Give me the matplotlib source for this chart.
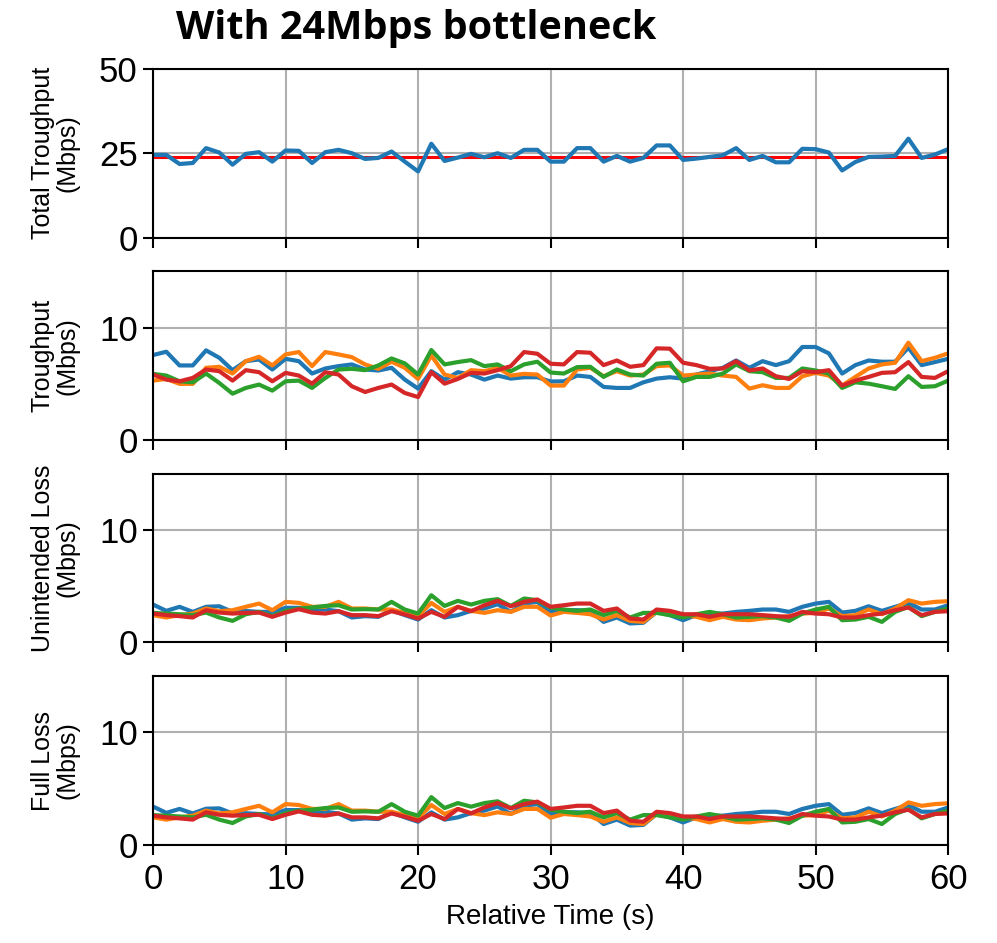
import numpy as np
import matplotlib
matplotlib.use("Agg")
import matplotlib.pyplot as plt

plt.rcParams['font.family'] = ['Liberation Sans', 'DejaVu Sans']

time_s = list(range(61))
bottleneck = 24

total_tput = [24.5, 24.5, 21.8, 22.1, 26.5, 25.2, 21.6, 24.8, 25.3, 22.5,
              25.8, 25.7, 22.1, 25.3, 26.0, 25.0, 23.3, 23.6, 25.5, 22.5,
              19.6, 27.8, 22.7, 23.7, 24.8, 23.8, 25.0, 23.6, 26.0, 26.0,
              22.5, 22.5, 26.5, 26.5, 22.5, 24.2, 22.5, 23.6, 27.3, 27.3,
              23.0, 23.4, 23.9, 24.4, 26.5, 23.0, 24.2, 22.3, 22.3, 26.3,
              26.2, 25.2, 19.9, 22.4, 23.9, 24.0, 24.2, 29.3, 23.6, 24.6, 26.2]

# per-flow throughput
tput_blue = [7.55, 7.85, 6.63, 6.63, 7.97, 7.31, 6.21, 7.01, 7.16, 6.27,
             7.22, 7.01, 5.91, 6.36, 6.57, 6.72, 6.27, 6.18, 6.42, 5.37,
             4.57, 6.12, 5.37, 6.03, 5.82, 5.37, 5.73, 5.46, 5.58, 5.58,
             5.20, 5.22, 5.73, 5.61, 4.72, 4.63, 4.63, 5.13, 5.46, 5.58,
             5.46, 5.82, 6.12, 6.42, 7.07, 6.42, 7.01, 6.66, 7.01, 8.27,
             8.27, 7.70, 5.91, 6.66, 7.07, 6.96, 6.96, 8.21, 6.66, 6.93, 7.22]
tput_orange = [5.28, 5.43, 4.99, 4.99, 6.42, 6.51, 5.91, 7.01, 7.40, 6.63,
               7.61, 7.82, 6.57, 7.82, 7.61, 7.37, 6.72, 6.33, 6.96, 6.42,
               5.43, 7.52, 5.82, 5.52, 6.21, 6.12, 6.42, 5.73, 5.88, 5.82,
               4.84, 4.84, 6.27, 6.42, 5.67, 6.12, 5.73, 5.82, 6.57, 6.63,
               5.73, 5.82, 5.91, 5.73, 5.61, 4.57, 4.87, 4.63, 4.63, 5.67,
               5.97, 5.73, 4.84, 5.61, 6.36, 6.72, 6.87, 8.66, 7.01, 7.31, 7.70]
tput_green = [5.88, 5.73, 5.22, 5.13, 5.91, 5.07, 4.12, 4.63, 4.93, 4.39,
              5.22, 5.28, 4.63, 5.52, 6.27, 6.33, 6.21, 6.63, 7.25, 6.81,
              5.82, 8.00, 6.72, 6.93, 7.10, 6.57, 6.72, 6.12, 6.72, 6.96,
              6.00, 5.91, 6.48, 6.51, 5.61, 6.27, 5.82, 5.73, 6.78, 6.87,
              5.22, 5.61, 5.61, 5.91, 6.72, 6.12, 6.03, 5.52, 5.52, 6.36,
              6.18, 5.91, 4.63, 5.13, 5.01, 4.78, 4.54, 5.67, 4.72, 4.78, 5.28]
tput_red = [5.82, 5.37, 5.22, 5.52, 6.27, 6.12, 5.28, 6.21, 6.03, 5.22,
            5.97, 5.73, 5.01, 6.03, 5.82, 4.78, 4.27, 4.63, 4.93, 4.18,
            3.82, 6.03, 5.01, 5.43, 5.97, 5.91, 6.21, 6.57, 7.82, 7.67,
            6.78, 6.72, 7.82, 7.76, 6.66, 7.07, 6.51, 6.66, 8.15, 8.12,
            6.87, 6.66, 6.33, 6.36, 7.01, 6.18, 6.36, 5.67, 5.43, 6.12,
            6.03, 6.21, 4.84, 5.28, 5.61, 5.97, 6.03, 6.93, 5.61, 5.52, 6.12]

# unintended loss per flow
uloss_blue = [3.37, 2.81, 3.17, 2.72, 3.17, 3.22, 2.72, 2.80, 2.72, 2.72,
              3.08, 3.08, 2.87, 2.93, 2.78, 2.22, 2.34, 2.28, 2.87, 2.43,
              2.04, 2.87, 2.22, 2.43, 2.81, 3.02, 3.40, 2.72, 3.46, 3.61,
              2.72, 2.87, 2.87, 2.81, 1.83, 2.22, 1.69, 1.75, 2.72, 2.43,
              1.98, 2.43, 2.57, 2.57, 2.72, 2.81, 2.93, 2.93, 2.72, 3.17,
              3.46, 3.61, 2.66, 2.81, 3.22, 2.81, 3.17, 3.52, 2.93, 2.93, 3.31]
uloss_orange = [2.43, 2.22, 2.43, 2.57, 3.02, 2.78, 2.87, 3.17, 3.46, 2.87,
                3.61, 3.52, 3.17, 3.17, 3.61, 3.02, 3.02, 2.93, 2.93, 2.63,
                2.34, 3.52, 2.72, 3.17, 2.81, 2.63, 2.87, 2.72, 3.17, 3.17,
                2.40, 2.72, 2.63, 2.51, 2.04, 2.43, 1.92, 1.83, 2.72, 2.51,
                2.43, 2.28, 1.98, 2.28, 2.04, 1.98, 2.13, 2.22, 2.34, 2.57,
                2.63, 3.02, 2.34, 2.43, 2.93, 2.51, 3.02, 3.76, 3.46, 3.61, 3.67]
uloss_green = [2.63, 2.57, 2.51, 2.43, 2.66, 2.22, 1.92, 2.51, 2.72, 2.34,
               2.81, 3.02, 3.11, 3.25, 3.31, 2.93, 2.96, 2.93, 3.61, 2.93,
               2.57, 4.20, 3.25, 3.70, 3.37, 3.70, 3.85, 3.25, 3.91, 3.76,
               3.10, 2.93, 2.81, 2.93, 2.43, 2.81, 2.22, 2.63, 2.63, 2.43,
               2.22, 2.51, 2.72, 2.51, 2.22, 2.28, 2.34, 2.22, 1.92, 2.57,
               2.93, 3.17, 1.98, 2.04, 2.28, 1.83, 2.72, 3.17, 2.34, 2.72, 3.02]
uloss_red = [2.57, 2.43, 2.34, 2.22, 2.87, 2.66, 2.57, 2.63, 2.66, 2.28,
             2.66, 2.96, 2.66, 2.57, 2.78, 2.43, 2.43, 2.34, 2.78, 2.49,
             2.13, 2.72, 2.28, 3.17, 2.78, 3.31, 3.70, 3.22, 3.61, 3.82,
             3.17, 3.31, 3.46, 3.46, 2.81, 3.02, 2.13, 2.04, 2.93, 2.81,
             2.51, 2.51, 2.28, 2.51, 2.51, 2.51, 2.43, 2.34, 2.28, 2.72,
             2.57, 2.51, 2.22, 2.22, 2.43, 2.57, 2.87, 3.11, 2.43, 2.72, 2.78]

# full loss per flow
floss_blue = [3.41, 2.85, 3.20, 2.80, 3.22, 3.25, 2.80, 2.82, 2.75, 2.72,
              3.10, 3.10, 2.90, 2.95, 2.80, 2.25, 2.36, 2.30, 2.90, 2.45,
              2.06, 2.90, 2.25, 2.45, 2.83, 3.05, 3.42, 2.75, 3.48, 3.63,
              2.75, 2.90, 2.90, 2.83, 1.86, 2.25, 1.72, 1.78, 2.75, 2.45,
              2.00, 2.45, 2.60, 2.60, 2.75, 2.83, 2.95, 2.95, 2.75, 3.20,
              3.48, 3.63, 2.68, 2.83, 3.25, 2.83, 3.20, 3.55, 2.95, 2.95, 3.33]
floss_orange = [2.45, 2.25, 2.45, 2.60, 3.05, 2.80, 2.90, 3.20, 3.48, 2.90,
                3.63, 3.55, 3.20, 3.20, 3.63, 3.05, 3.05, 2.95, 2.95, 2.65,
                2.36, 3.55, 2.75, 3.20, 2.83, 2.65, 2.90, 2.75, 3.20, 3.20,
                2.42, 2.75, 2.65, 2.53, 2.06, 2.45, 1.95, 1.86, 2.75, 2.53,
                2.45, 2.30, 2.00, 2.30, 2.06, 2.00, 2.15, 2.25, 2.36, 2.60,
                2.65, 3.05, 2.36, 2.45, 2.95, 2.53, 3.05, 3.78, 3.48, 3.63, 3.70]
floss_green = [2.65, 2.60, 2.53, 2.45, 2.68, 2.25, 1.95, 2.53, 2.75, 2.36,
               2.83, 3.05, 3.13, 3.28, 3.33, 2.95, 2.98, 2.95, 3.63, 2.95,
               2.60, 4.25, 3.28, 3.72, 3.40, 3.72, 3.88, 3.28, 3.93, 3.78,
               3.12, 2.95, 2.83, 2.95, 2.45, 2.83, 2.25, 2.65, 2.65, 2.45,
               2.25, 2.53, 2.75, 2.53, 2.25, 2.30, 2.36, 2.25, 1.95, 2.60,
               2.95, 3.20, 2.00, 2.06, 2.30, 1.86, 2.75, 3.20, 2.36, 2.75, 3.05]
floss_red = [2.60, 2.45, 2.36, 2.25, 2.90, 2.68, 2.60, 2.65, 2.68, 2.30,
             2.68, 2.98, 2.68, 2.60, 2.80, 2.45, 2.45, 2.36, 2.80, 2.51,
             2.15, 2.75, 2.30, 3.20, 2.80, 3.33, 3.72, 3.25, 3.63, 3.85,
             3.20, 3.33, 3.48, 3.48, 2.83, 3.05, 2.15, 2.06, 2.95, 2.83,
             2.53, 2.53, 2.30, 2.53, 2.53, 2.53, 2.45, 2.36, 2.30, 2.75,
             2.60, 2.53, 2.25, 2.25, 2.45, 2.60, 2.90, 3.13, 2.45, 2.75, 2.80]

flow_colors = ["#1f77b4", "#ff7f0e", "#2ca02c", "#d62728"]
ylabels = ["Total Troughput\n(Mbps)", "Troughput\n(Mbps)",
           "Unintended Loss\n(Mbps)", "Full Loss\n(Mbps)"]

fig, axes = plt.subplots(4, 1, figsize=(9.97, 9.43), dpi=100, sharex=True)
plt.subplots_adjust(left=0.1535, right=0.951, top=0.927, bottom=0.104, hspace=0.2)

# top panel: total throughput vs bottleneck
ax = axes[0]
ax.plot([0, 60], [bottleneck, bottleneck], color="red", lw=2.2)
ax.plot(time_s, total_tput, color=flow_colors[0], lw=3)
ax.set_ylim(0, 50)
ax.set_yticks([0, 25, 50])

panels = [
    (tput_blue, tput_orange, tput_green, tput_red),
    (uloss_blue, uloss_orange, uloss_green, uloss_red),
    (floss_blue, floss_orange, floss_green, floss_red),
]
for ax, series in zip(axes[1:], panels):
    for vals, c in zip(series, flow_colors):
        ax.plot(time_s, vals, color=c, lw=3)
    ax.set_ylim(0, 15)
    ax.set_yticks([0, 10])

for ax, lab in zip(axes, ylabels):
    ax.set_xlim(0, 60)
    ax.set_xticks(range(0, 61, 10))
    ax.grid(True, color="#b0b0b0", lw=1.5)
    ax.set_axisbelow(True)
    for sp in ax.spines.values():
        sp.set_linewidth(1.5)
        sp.set_color("black")
    ax.tick_params(direction="out", length=7, width=1.5, labelsize=25, pad=4)
    ax.tick_params(axis="x", pad=6)
    ax.set_ylabel(lab, fontsize=18, linespacing=1.05)
    ax.yaxis.set_label_coords(-0.092, 0.5)

axes[-1].set_xlabel("Relative Time (s)", fontsize=20, labelpad=6)

fig.text(0.1765, 0.970, "With 24Mbps bottleneck", fontsize=28.5, fontweight="bold",
         family=["Open Sans", "DejaVu Sans"], ha="left", va="center")

plt.savefig("out.png", dpi=100)
